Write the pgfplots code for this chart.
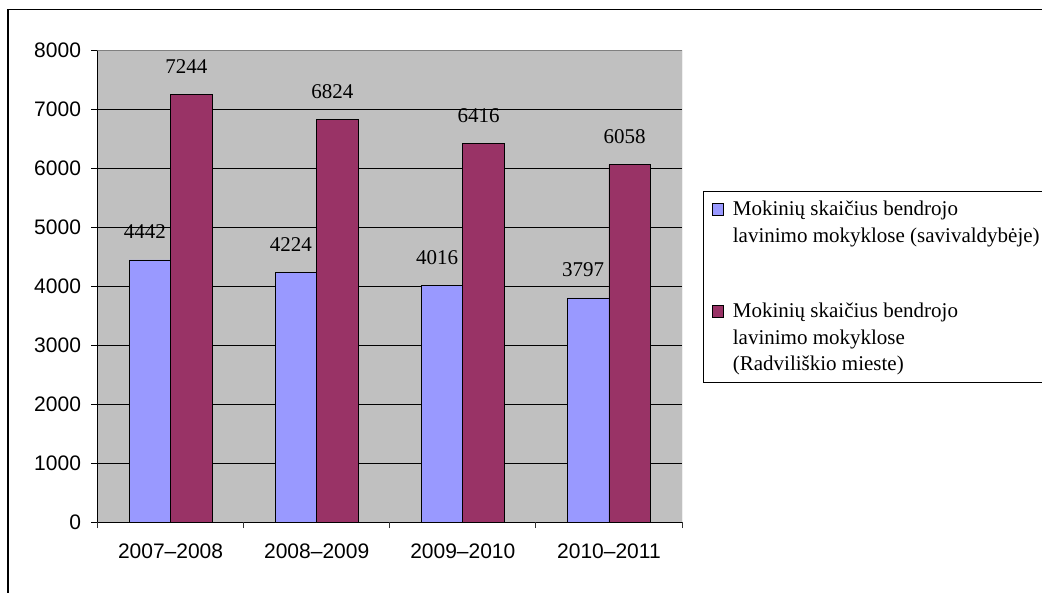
\documentclass[border=0pt]{standalone}
\usepackage{fontspec}
\setmainfont{Liberation Serif}
\newfontfamily\arial{Liberation Sans}
\usepackage{pgfplots}
\usepackage{pgfplotstable}
\pgfplotsset{compat=1.18}
\definecolor{barblue}{HTML}{9999FF}
\definecolor{barred}{HTML}{993366}
\definecolor{plotgray}{HTML}{C0C0C0}
\definecolor{bordergray}{HTML}{808080}
\pgfplotstableread{
x y
0 4442
1 4224
2 4016
3 3797
}\savtable
\pgfplotstableread{
x y
0 7244
1 6824
2 6416
3 6058
}\radtable
\begin{document}
\begin{tikzpicture}[x=1pt,y=1pt]
\draw[line width=1.6pt,black] (8,-20) -- (8,582.5) -- (1070,582.5);
\begin{axis}[
  at={(97.5pt,70pt)}, anchor=south west,
  scale only axis, width=584.5pt, height=472pt,
  ybar=0pt, bar width=41.5pt,
  xmin=-0.5, xmax=3.5, ymin=0, ymax=8000,
  axis background/.style={fill=plotgray},
  axis x line*=bottom, axis y line*=left,
  axis line style={draw=black, line width=0.8pt, -},
  ytick={0,1000,...,8000},
  ymajorgrids, grid style={draw=black, line width=0.8pt},
  tick style={draw=black, line width=0.8pt},
  major tick length=6pt, tick align=outside,
  scaled y ticks=false,
  /pgf/number format/1000 sep={},
  yticklabel style={xshift=-7pt},
  xtick={0,1,2,3},
  xticklabels={2007–2008,2008–2009,2009–2010,2010–2011},
  x tick style={draw=none},
  extra x ticks={-0.5,0.5,1.5,2.5,3.5},
  extra x tick labels={},
  extra x tick style={grid=none, x tick style={draw=black!80, line width=0.8pt}, major tick length=6pt},
  xticklabel style={yshift=-12pt},
  tick label style={font=\arial\fontsize{21}{24}\selectfont},
  /pgf/number format/assume math mode=true,
  nodes near coords,
  every node near coord/.append style={anchor=base, yshift=21pt, xshift=-5pt, font=\fontsize{21}{24}\selectfont, text=black},
  legend style={at={(1.0364,0.702)}, anchor=north west, draw=black, line width=1pt, fill=white,
    font=\fontsize{21}{26.7}\selectfont, inner xsep=8pt, inner ysep=8pt, row sep=55pt,
    /tikz/column 1/.style={column sep=7pt},
    nodes={align=left, anchor=base west, inner sep=2pt}},
  legend cell align=left,
]
\addplot[fill=barblue, draw=black, line width=0.7pt,
  legend image code/.code={\draw[fill=barblue, draw=black, line width=0.6pt] (0pt,26.7pt) rectangle (11.5pt,38.7pt);}]
  table[x=x,y=y] {\savtable};
\addplot[fill=barred, draw=black, line width=0.7pt,
  legend image code/.code={\draw[fill=barred, draw=black, line width=0.6pt] (0pt,53.4pt) rectangle (11.5pt,65.4pt);}]
  table[x=x,y=y] {\radtable};
\addlegendentry{Mokinių skaičius bendrojo\\lavinimo mokyklose (savivaldybėje)}
\addlegendentry{Mokinių skaičius bendrojo\\lavinimo mokyklose\\(Radviliškio mieste)}
\draw[bordergray, line width=0.9pt] (rel axis cs:0,1) -- (rel axis cs:1,1) -- (rel axis cs:1,0);
\end{axis}
\pgfresetboundingbox
\useasboundingbox (0,0) rectangle (1042,592);
\end{tikzpicture}
\end{document}
